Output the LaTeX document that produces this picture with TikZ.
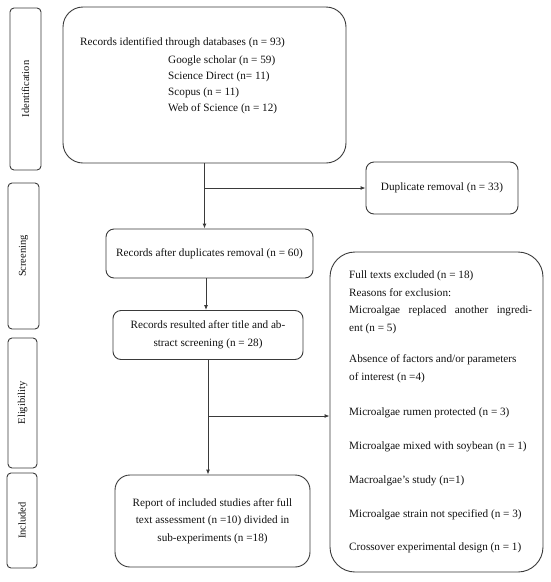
\documentclass[tikz,border=0pt]{standalone}
\usepackage{fontspec}
\setmainfont{Liberation Serif}
\usetikzlibrary{arrows.meta}
\definecolor{linec}{HTML}{3A3A3A}
\definecolor{textc}{HTML}{111111}
\begin{document}
\begin{tikzpicture}[x=1pt,y=-1pt,
  every node/.style={text=textc, font=\fontsize{11.2}{17.5}\selectfont},
  box/.style={draw=linec, line width=0.9pt, rounded corners=#1, inner sep=0pt, align=center},
  box/.default=8pt,
  stagebox/.style={draw=linec, line width=0.9pt, rounded corners=4pt, inner sep=0pt},
  stagetext/.style={rotate=90, font=\fontsize{10.5}{12}\selectfont},
  conn/.style={draw=linec, line width=0.9pt},
  arr/.style={conn, -{Latex[length=5pt,width=4pt]}},
  line/.style={anchor=west, inner sep=0pt}
]
\useasboundingbox (0,0) rectangle (550,582);

% stage boxes
\node[stagebox, minimum width=31pt, minimum height=162pt] (sid) at (25.5,89) {};
\node[stagetext] at (sid) {Identification};
\node[stagebox, minimum width=31pt, minimum height=146pt] (ssc) at (23.5,256) {};
\node[stagetext] at (ssc) {Screening};
\node[stagebox, minimum width=29pt, minimum height=130pt] (sel) at (22.5,403) {};
\node[stagetext] at (sel) {Eligibility};
\node[stagebox, minimum width=30pt, minimum height=95pt] (sin) at (22,520.5) {};
\node[stagetext] at (sin) {Included};

% identification box
\node[box=20pt, minimum width=283pt, minimum height=156pt] (ident) at (204.5,85) {};
\node[line] (t1) at (80,43) {Records identified through databases (n = 93)};
\node[line] (t2) at (168,61) {Google scholar (n = 59)};
\node[line] (t3) at (168,77) {Science Direct (n= 11)};
\node[line] (t4) at (168,93) {Scopus (n = 11)};
\node[line] (t5) at (168,109) {Web of Science (n = 12)};

% other boxes
\node[box=8pt, minimum width=152pt, minimum height=52pt] (dup) at (442,188) {Duplicate removal (n = 33)};
\node[box=8pt, minimum width=207pt, minimum height=49pt] (rad) at (209.5,253.5) {Records after duplicates removal (n = 60)};
\node[box=8pt, minimum width=190pt, minimum height=49pt] (rr) at (208,335) {Records resulted after title and ab-\\stract screening (n = 28)};
\node[box=15pt, minimum width=195pt, minimum height=92pt] (rep) at (212.5,521) {Report of included studies after full\\text assessment (n =10) divided in\\sub-experiments (n =18)};
\node[box=25pt, minimum width=213pt, minimum height=320pt] (excl) at (436.5,412) {};

% exclusion texts
\node[line] (e1) at (349,276) {Full texts excluded (n = 18)};
\node[line] (e2) at (349,293) {Reasons for exclusion:};
\node[line] (e3) at (349,311) {\makebox[183pt][s]{Microalgae replaced another ingredi-}};
\node[line] (e4) at (349,329) {ent (n = 5)};
\node[line] (e5) at (349,360) {Absence of factors and/or parameters};
\node[line] (e6) at (349,378) {of interest (n =4)};
\node[line] (e7) at (349,413) {Microalgae rumen protected (n = 3)};
\node[line] (e8) at (349,447) {Microalgae mixed with soybean (n = 1)};
\node[line] (e9) at (349,481) {Macroalgae's study (n=1)};
\node[line] (e10) at (349,515) {Microalgae strain not specified (n = 3)};
\node[line] (e11) at (349,548) {Crossover experimental design (n = 1)};

% connectors
\coordinate (j1) at (ident.south |- dup.west);
\draw[arr] (ident.south) -- (ident.south |- rad.north);
\draw[arr] (j1) -- (dup.west);
\coordinate (s2) at (206,278);
\draw[arr] (s2) -- (s2 |- rr.north);
\coordinate (s3) at (208,359);
\coordinate (j2) at (208,416);
\draw[arr] (s3) -- (s3 |- rep.north);
\draw[arr] (j2) -- (j2 -| excl.west);
\end{tikzpicture}
\end{document}
